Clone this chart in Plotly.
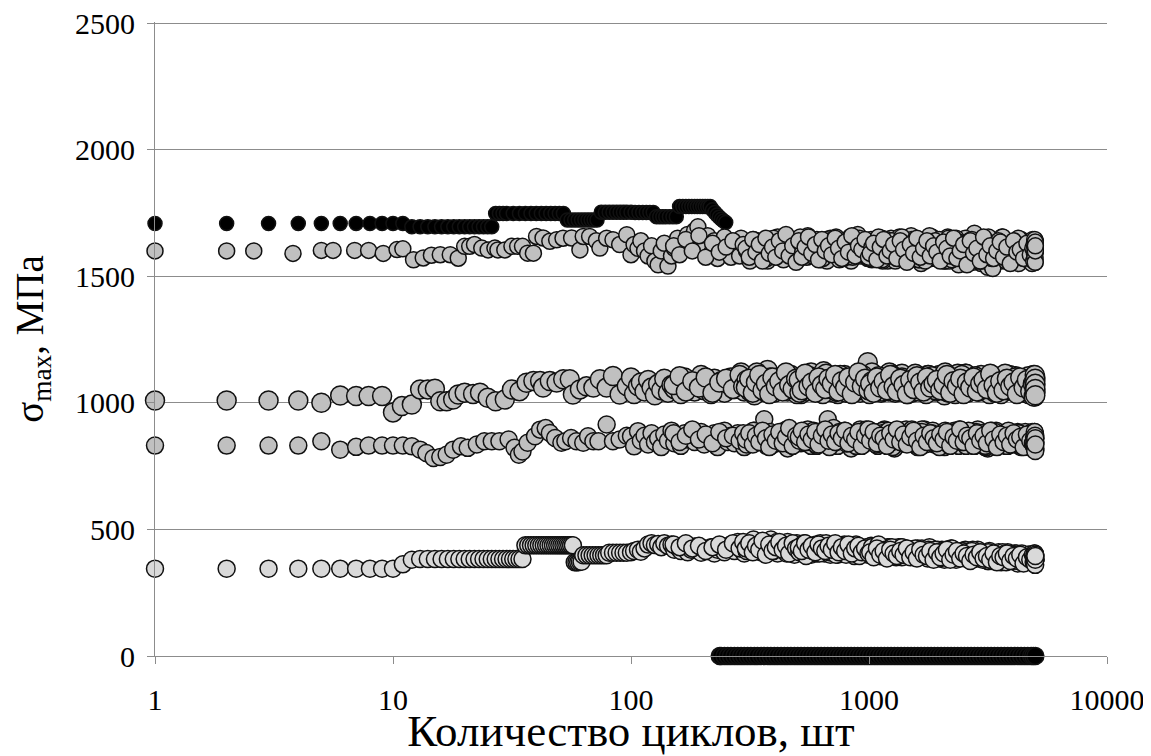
import plotly.graph_objects as go

# ---------------- data ----------------
# dense cycle grid A (100 .. 5000 cycles)
cyc_a = [100, 103, 107, 110, 114, 118, 122, 126, 130, 134,
         138, 143, 148, 152, 157, 162, 168, 173, 179, 185,
         191, 197, 203, 210, 217, 224, 231, 239, 247, 255,
         263, 272, 281, 290, 299, 309, 319, 330, 340, 352,
         363, 375, 387, 400, 413, 427, 441, 455, 470, 486,
         502, 518, 535, 553, 571, 590, 609, 629, 650, 671,
         693, 716, 739, 763, 788, 814, 841, 868, 897, 926,
         957, 988, 1020, 1054, 1088, 1124, 1161, 1199, 1238, 1279,
         1321, 1364, 1409, 1455, 1503, 1552, 1603, 1655, 1710, 1766,
         1824, 1883, 1945, 2009, 2075, 2143, 2213, 2285, 2360, 2438,
         2518, 2600, 2685, 2773, 2864, 2958, 3055, 3155, 3259, 3365,
         3476, 3590, 3707, 3829, 3954, 4084, 4218, 4356, 4499, 4646,
         4800, 4900, 5000]
# dense cycle grid B (300 .. 5000 cycles)
cyc_b = [304, 314, 325, 335, 346, 357, 369, 381, 393, 406,
         420, 434, 448, 462, 478, 494, 510, 526, 544, 562,
         580, 600, 619, 640, 660, 682, 704, 727, 751, 775,
         801, 827, 854, 882, 911, 941, 972, 1004, 1037, 1071,
         1106, 1142, 1180, 1218, 1258, 1300, 1342, 1386, 1432, 1479,
         1527, 1577, 1629, 1682, 1738, 1795, 1853, 1914, 1977, 2042,
         2109, 2178, 2249, 2322, 2399, 2478, 2559, 2642, 2729, 2818,
         2911, 3006, 3105, 3207, 3312, 3420, 3533, 3648, 3768, 3891,
         4019, 4151, 4287, 4427, 4572, 4723, 4850, 4950, 4975, 4990]
# dense cycle grid C (1000 .. 5000 cycles)
cyc_c = [1012, 1046, 1080, 1115, 1152, 1190, 1228, 1269, 1310, 1353,
         1397, 1443, 1491, 1540, 1590, 1642, 1696, 1752, 1809, 1868,
         1929, 1993, 2058, 2126, 2195, 2267, 2341, 2418, 2498, 2580,
         2664, 2751, 2841, 2934, 3030, 3129, 3232, 3338, 3447, 3561,
         3677, 3797, 3922, 4050, 4183, 4320, 4462, 4608, 4760, 4880,
         4920, 4940, 4960, 4970, 4980, 4985, 4992, 4995, 4998, 5000]
# dense cycle grid D (150 .. 5000 cycles)
cyc_d = [151, 160, 170, 181, 193, 206, 220, 235, 251, 268,
         286, 296, 306, 316, 327, 338, 349, 360, 372, 384,
         397, 410, 423, 437, 451, 466, 482, 498, 514, 531,
         548, 566, 585, 604, 624, 645, 666, 688, 710, 733,
         757, 782, 808, 834, 861, 889, 918, 948, 980, 1028,
         1063, 1097, 1133, 1171, 1209, 1248, 1289, 1331, 1375, 1420,
         1467, 1515, 1565, 1616, 1669, 1724, 1780, 1839, 1899, 1961,
         2025, 2092, 2160, 2231, 2304, 2380, 2458, 2539, 2622, 2708,
         2797, 2888, 2983, 3081, 3182, 3286, 3394, 3505, 3620, 3739,
         3862, 3988, 4119, 4254, 4393, 4537, 4686, 4760, 4830, 4870,
         4910, 4930, 4945, 4955, 4965, 4975, 4983, 4988, 4994, 4997]
# dense cycle grid E (500 .. 5000 cycles)
cyc_e = [507, 522, 539, 557, 575, 595, 614, 634, 655, 676,
         698, 721, 745, 769, 794, 820, 847, 875, 903, 933,
         963, 995, 1028, 1062, 1097, 1133, 1170, 1208, 1248, 1289,
         1331, 1375, 1420, 1466, 1514, 1564, 1615, 1668, 1722, 1779,
         1837, 1897, 1959, 2023, 2090, 2158, 2229, 2302, 2377, 2455,
         2535, 2618, 2704, 2792, 2884, 2978, 3076, 3176, 3280, 3388,
         3499, 3613, 3731, 3853, 3979, 4109, 4244, 4383, 4526, 4674,
         4720, 4780, 4815, 4845, 4875, 4905, 4925, 4950, 4970, 4990]

# black series, upper part (before failure)
bk_x = [1, 2, 3, 4, 5, 6, 7, 8, 9, 10, 11,
        12, 13, 14, 15, 16, 17, 18, 19, 20, 21, 22, 23, 24, 25, 26,
        27, 28, 29, 30, 32, 34, 36, 38, 40, 42, 44, 46, 48, 50, 52,
        54, 56, 58, 60, 62, 64, 66, 68, 70, 72,
        75, 78, 81, 84, 87, 90, 93, 96, 100,
        104, 108, 112, 116, 120, 124,
        128, 132, 136, 140, 145, 150, 155,
        160, 165, 170, 175, 180, 185, 190, 195, 200, 205, 210, 215,
        220, 225, 230, 235, 240, 245, 250]
bk_y = [1708, 1708, 1708, 1708, 1708, 1708, 1708, 1708, 1708, 1708, 1708,
        1695, 1695, 1695, 1695, 1695, 1695, 1695, 1695, 1695, 1695, 1695, 1695, 1695, 1695, 1695,
        1748, 1748, 1748, 1748, 1748, 1748, 1748, 1748, 1748, 1748, 1748, 1748, 1748, 1748, 1748,
        1722, 1722, 1722, 1722, 1722, 1722, 1722, 1722, 1722, 1722,
        1753, 1753, 1753, 1753, 1753, 1753, 1753, 1753, 1753,
        1752, 1752, 1752, 1752, 1752, 1752,
        1735, 1735, 1735, 1735, 1735, 1735, 1735,
        1775, 1775, 1775, 1775, 1775, 1775, 1775, 1775, 1775, 1775, 1775, 1775,
        1762, 1752, 1742, 1733, 1725, 1718, 1712]

# black series after failure (stress = 0)
bz_x = [236, 239, 247, 255, 263, 272, 281, 290, 299, 309, 319, 330, 340, 352,
        363, 375, 387, 400, 413, 427, 441, 455, 470, 486,
        502, 518, 535, 553, 571, 590, 609, 629, 650, 671,
        693, 716, 739, 763, 788, 814, 841, 868, 897, 926,
        957, 988, 1020, 1054, 1088, 1124, 1161, 1199, 1238, 1279,
        1321, 1364, 1409, 1455, 1503, 1552, 1603, 1655, 1710, 1766,
        1824, 1883, 1945, 2009, 2075, 2143, 2213, 2285, 2360, 2438,
        2518, 2600, 2685, 2773, 2864, 2958, 3055, 3155, 3259, 3365,
        3476, 3590, 3707, 3829, 3954, 4084, 4218, 4356, 4499, 4646,
        4800, 4900, 5000]
bz_y = [0] * len(bz_x)

# ~1600 MPa series
s1600_x_low = [1, 2, 2.6, 3.8, 5, 5.6, 6.9, 7.9, 9.1, 10.4, 11, 12.2, 13.4, 14.5, 15.8,
               17.4, 18.8, 20, 21, 22, 23.6, 25.1, 26.8, 27.6, 29.5, 31.6, 33.4, 35,
               36.8, 38.9, 40.1, 42.7, 45.6, 48.7, 51.8, 56.3, 61, 63, 67, 71.5, 74,
               79, 84, 89.6, 96]
s1600_y_low = [1600, 1600, 1600, 1590, 1602, 1602, 1602, 1602, 1590, 1605, 1608, 1565, 1572, 1583, 1585,
               1585, 1571, 1618, 1618, 1625, 1611, 1604, 1611, 1604, 1604, 1618, 1618, 1618,
               1591, 1591, 1657, 1651, 1638, 1644, 1650, 1651, 1604, 1657, 1657, 1640, 1611,
               1650, 1644, 1625, 1664]
s1600_y_a = [1585, 1625, 1610, 1640, 1600, 1580, 1620, 1560, 1545, 1600,
             1630, 1540, 1580, 1610, 1650, 1600, 1620, 1665, 1640, 1680,
             1695, 1650, 1610, 1660, 1590, 1640, 1570, 1620, 1655, 1600,
             1575, 1630, 1610, 1650, 1595, 1620, 1570, 1605, 1640, 1585,
             1615, 1560, 1630, 1600, 1655, 1575, 1620, 1590, 1645, 1610,
             1570, 1625, 1600, 1660, 1585, 1615, 1640, 1565, 1605, 1630,
             1595, 1650, 1575, 1620, 1600, 1640, 1560, 1615, 1665, 1590,
             1625, 1570, 1645, 1600, 1580, 1635, 1610, 1560, 1650, 1595,
             1620, 1575, 1640, 1600, 1660, 1585, 1615, 1550, 1630, 1605,
             1570, 1645, 1595, 1620, 1560, 1655, 1600, 1580, 1640, 1610,
             1565, 1625, 1595, 1670, 1580, 1550, 1615, 1535, 1645, 1590,
             1610, 1560, 1640, 1585, 1600, 1625, 1555, 1645, 1580, 1615,
             1595, 1560, 1640]
s1600_y_b = [1610, 1575, 1645, 1595, 1625, 1560, 1650, 1590, 1615, 1575,
             1640, 1600, 1665, 1580, 1620, 1555, 1635, 1595, 1610, 1650,
             1580, 1625, 1600, 1570, 1645, 1610, 1590, 1655, 1565, 1620,
             1600, 1640, 1575, 1620, 1650, 1585, 1610, 1570, 1635, 1595,
             1615, 1560, 1645, 1600, 1625, 1580, 1655, 1595, 1570, 1630,
             1605, 1640, 1565, 1620, 1590, 1660, 1575, 1610, 1645, 1585,
             1625, 1560, 1600, 1650, 1575, 1615, 1590, 1640, 1555, 1620,
             1595, 1645, 1570, 1610, 1530, 1625, 1585, 1655, 1560, 1600,
             1620, 1575, 1640, 1590, 1610, 1560, 1630, 1585, 1600, 1620]
s1600_y_c = [1590, 1630, 1565, 1615, 1645, 1580, 1600, 1625, 1570, 1640,
             1605, 1555, 1625, 1590, 1650, 1575, 1610, 1640, 1580, 1620,
             1595, 1560, 1635, 1610, 1580, 1650, 1570, 1600, 1625, 1545,
             1640, 1590, 1610, 1560, 1655, 1585, 1620, 1570, 1600, 1635,
             1575, 1615, 1550, 1640, 1595, 1605, 1570, 1630, 1585, 1610,
             1560, 1625, 1590, 1645, 1575, 1610, 1555, 1635, 1600, 1620]
s1600_y_d = [1620, 1585, 1645, 1600, 1660, 1575, 1630, 1595, 1615, 1640,
             1580, 1625, 1600, 1560, 1645, 1610, 1585, 1635, 1570, 1620,
             1650, 1595, 1615, 1565, 1640, 1600, 1625, 1580, 1655, 1605,
             1575, 1630, 1610, 1645, 1590, 1620, 1560, 1650, 1600, 1585,
             1635, 1570, 1615, 1655, 1595, 1625, 1580, 1645, 1605, 1565,
             1620, 1590, 1650, 1575, 1610, 1640, 1560, 1625, 1595, 1615,
             1580, 1645, 1600, 1565, 1635, 1610, 1590, 1655, 1570, 1620,
             1600, 1560, 1640, 1585, 1625, 1545, 1615, 1650, 1575, 1605,
             1630, 1590, 1560, 1645, 1610, 1540, 1620, 1580, 1655, 1595,
             1570, 1625, 1600, 1550, 1640, 1585, 1615, 1575, 1630, 1595,
             1560, 1610, 1585, 1640, 1570, 1620, 1595, 1555, 1635, 1600]
s1600_y_e = [1640, 1575, 1615, 1655, 1590, 1625, 1565, 1645, 1600, 1620,
             1585, 1650, 1610, 1570, 1635, 1595, 1660, 1580, 1620, 1605,
             1645, 1575, 1615, 1590, 1655, 1565, 1630, 1600, 1640, 1585,
             1610, 1655, 1570, 1625, 1595, 1645, 1580, 1615, 1560, 1635,
             1600, 1640, 1575, 1620, 1590, 1650, 1565, 1610, 1635, 1585,
             1620, 1575, 1645, 1600, 1560, 1630, 1590, 1655, 1570, 1615,
             1640, 1585, 1605, 1565, 1625, 1595, 1650, 1575, 1610, 1590,
             1630, 1570, 1615, 1550, 1645, 1600, 1580, 1625, 1565, 1610]

# ~1000 MPa series
s1000_x_low = [1, 2, 3, 4, 5, 6, 7, 7.9, 9, 10, 10.9, 12, 13, 14, 15, 15.8, 16.8, 17.9, 18.8, 20,
               21.7, 23.2, 25, 27, 29.5, 31.6, 34, 36.4, 38.9, 41.5, 42.7, 45.6, 48.7, 51.9,
               55.3, 57, 61, 65, 69.5, 74, 79, 84, 89.6, 96]
s1000_y_low = [1009, 1009, 1009, 1009, 1000, 1029, 1027, 1027, 1027, 962, 987, 993, 1053, 1053, 1056,
               1006, 1006, 1013, 1033, 1040, 1035, 1040, 1020, 1006, 1013, 1053, 1046, 1079, 1086,
               1086, 1060, 1086, 1080, 1093, 1093, 1033, 1053, 1065, 1060, 1093, 1060, 1106, 1033, 1066]
s1000_y_a = [1100, 1035, 1066, 1080, 1045, 1090, 1060, 1030, 1075, 1050,
             1095, 1040, 1070, 1055, 1085, 1035, 1100, 1060, 1075, 1045,
             1080, 1110, 1050, 1070, 1035, 1095, 1060, 1085, 1040, 1075,
             1100, 1055, 1070, 1120, 1045, 1085, 1060, 1030, 1095, 1070,
             1050, 1130, 1075, 1040, 1100, 1065, 1085, 1045, 1110, 1060,
             1080, 1035, 1095, 1070, 1120, 1050, 1085, 1040, 1075, 1100,
             1060, 1090, 1035, 1080, 1110, 1055, 1070, 1045, 1095, 1065,
             1085, 1160, 1050, 1100, 1070, 1040, 1090, 1060, 1115, 1045,
             1080, 1055, 1100, 1035, 1075, 1095, 1050, 1085, 1065, 1110,
             1045, 1080, 1060, 1100, 1030, 1090, 1070, 1050, 1115, 1065,
             1085, 1040, 1095, 1060, 1075, 1110, 1045, 1080, 1055, 1100,
             1070, 1035, 1090, 1060, 1105, 1050, 1080, 1065, 1040, 1095,
             1060, 1085, 1045]
s1000_y_b = [1060, 1095, 1040, 1080, 1110, 1050, 1075, 1035, 1100, 1065,
             1085, 1045, 1120, 1070, 1055, 1095, 1040, 1080, 1065, 1105,
             1050, 1090, 1070, 1035, 1115, 1060, 1085, 1045, 1100, 1075,
             1040, 1095, 1065, 1080, 1050, 1110, 1070, 1035, 1090, 1060,
             1100, 1050, 1075, 1120, 1045, 1085, 1060, 1095, 1040, 1080,
             1065, 1105, 1050, 1085, 1035, 1095, 1070, 1055, 1110, 1075,
             1045, 1090, 1060, 1100, 1070, 1040, 1115, 1065, 1085, 1050,
             1095, 1060, 1080, 1035, 1105, 1070, 1050, 1090, 1065, 1110,
             1055, 1085, 1040, 1095, 1070, 1100, 1050, 1080, 1030, 1090]
s1000_y_c = [1075, 1040, 1100, 1060, 1085, 1050, 1110, 1065, 1045, 1095,
             1070, 1035, 1090, 1055, 1105, 1080, 1045, 1100, 1060, 1075,
             1090, 1050, 1070, 1110, 1040, 1085, 1065, 1095, 1035, 1080,
             1060, 1100, 1045, 1075, 1090, 1055, 1115, 1070, 1040, 1085,
             1050, 1095, 1065, 1080, 1035, 1100, 1060, 1090, 1045, 1075,
             1025, 1085, 1050, 1110, 1065, 1040, 1095, 1075, 1055, 1030]
s1000_y_d = [1070, 1105, 1045, 1085, 1060, 1100, 1040, 1080, 1095, 1055,
             1110, 1065, 1090, 1045, 1075, 1120, 1055, 1085, 1040, 1100,
             1065, 1095, 1050, 1080, 1115, 1060, 1090, 1035, 1075, 1105,
             1045, 1085, 1070, 1100, 1055, 1125, 1065, 1090, 1040, 1080,
             1110, 1050, 1075, 1095, 1060, 1085, 1040, 1100, 1070, 1120,
             1055, 1090, 1065, 1105, 1045, 1080, 1095, 1050, 1115, 1070,
             1085, 1040, 1100, 1065, 1090, 1055, 1110, 1075, 1045, 1095,
             1060, 1105, 1050, 1080, 1035, 1095, 1070, 1115, 1055, 1085,
             1100, 1045, 1075, 1090, 1060, 1110, 1040, 1085, 1065, 1095,
             1050, 1080, 1105, 1040, 1090, 1070, 1035, 1100, 1060, 1085,
             1110, 1045, 1075, 1095, 1030, 1085, 1060, 1040, 1100, 1070]
s1000_y_e = [1090, 1050, 1115, 1065, 1080, 1040, 1100, 1070, 1055, 1095,
             1075, 1110, 1045, 1085, 1060, 1100, 1035, 1080, 1120, 1065,
             1095, 1050, 1085, 1070, 1105, 1045, 1090, 1060, 1110, 1040,
             1080, 1100, 1055, 1090, 1065, 1115, 1045, 1075, 1095, 1060,
             1105, 1050, 1085, 1070, 1120, 1040, 1095, 1065, 1080, 1110,
             1055, 1090, 1075, 1105, 1045, 1085, 1060, 1100, 1070, 1040,
             1095, 1065, 1115, 1050, 1080, 1100, 1045, 1090, 1070, 1105,
             1060, 1085, 1035, 1100, 1075, 1050, 1095, 1065, 1025, 1085]

# ~830 MPa series
s830_x_low = [1, 2, 3, 4, 5, 6, 7, 7.9, 9, 10, 11, 12, 13, 13.8, 14.8, 15.8, 16.8, 17.9, 19.3, 20.6,
              22.5, 24.2, 26, 28, 30.6, 32.4, 33.8, 35, 36.8, 39.5, 41.5, 43.8, 45.6, 48, 51, 53,
              56, 59, 63, 66, 69.5, 73, 79, 84, 89.6, 96]
s830_y_low = [831, 831, 831, 831, 848, 815, 826, 831, 831, 831, 831, 828, 815, 802, 782, 786, 795, 815, 828, 822,
              835, 848, 848, 848, 855, 822, 795, 808, 842, 868, 894, 900, 881, 861, 842, 848,
              861, 848, 842, 868, 848, 848, 914, 848, 855, 870]
s830_y_a = [868, 828, 888, 850, 870, 835, 880, 845, 860, 825,
            875, 850, 890, 840, 865, 830, 880, 855, 870, 845,
            860, 885, 835, 870, 850, 880, 825, 865, 890, 845,
            870, 840, 880, 855, 825, 870, 860, 890, 845, 850,
            935, 860, 830, 875, 845, 885, 855, 820, 870, 850,
            880, 840, 865, 895, 830, 870, 850, 885, 860, 935,
            845, 875, 830, 865, 890, 850, 820, 870, 855, 880,
            840, 870, 855, 885, 830, 865, 895, 845, 875, 820,
            860, 890, 840, 870, 850, 880, 825, 865, 895, 845,
            870, 835, 880, 855, 825, 870, 860, 890, 840, 865,
            880, 845, 870, 830, 895, 850, 865, 820, 875, 855,
            840, 880, 860, 830, 870, 850, 885, 825, 865, 845,
            870, 835, 860]
s830_y_b = [855, 880, 835, 870, 845, 890, 860, 825, 875, 850,
            885, 840, 865, 900, 830, 870, 850, 880, 845, 865,
            875, 835, 860, 890, 850, 825, 870, 845, 885, 860,
            840, 875, 855, 830, 880, 860, 895, 845, 870, 835,
            865, 890, 845, 875, 825, 860, 880, 850, 895, 840,
            870, 835, 885, 855, 870, 840, 890, 860, 825, 875,
            850, 880, 840, 870, 895, 855, 830, 875, 860, 885,
            845, 870, 825, 880, 855, 890, 840, 865, 830, 875,
            860, 835, 880, 850, 870, 825, 885, 845, 860, 815]
s830_y_c = [850, 885, 840, 870, 860, 830, 880, 855, 895, 845,
            875, 835, 865, 890, 850, 825, 870, 845, 880, 860,
            840, 875, 855, 885, 830, 865, 850, 895, 845, 870,
            860, 830, 880, 850, 870, 840, 890, 855, 825, 875,
            845, 870, 835, 880, 855, 865, 825, 875, 850, 840,
            830, 865, 850, 885, 820, 870, 845, 810, 860, 835]
s830_y_d = [880, 845, 870, 895, 855, 875, 840, 885, 860, 870,
            850, 880, 835, 865, 890, 845, 875, 860, 830, 885,
            865, 840, 880, 855, 895, 835, 870, 850, 885, 845,
            875, 855, 890, 830, 865, 880, 845, 870, 900, 850,
            860, 885, 840, 875, 850, 870, 895, 835, 865, 880,
            845, 870, 855, 890, 830, 875, 860, 885, 840, 865,
            880, 850, 870, 835, 895, 855, 875, 845, 880, 860,
            835, 870, 885, 850, 865, 830, 890, 855, 875, 840,
            870, 845, 880, 825, 860, 890, 850, 875, 835, 865,
            855, 880, 840, 870, 830, 885, 850, 865, 825, 875,
            840, 870, 850, 885, 825, 860, 835, 875, 845, 820]
s830_y_e = [865, 890, 845, 875, 855, 885, 835, 870, 895, 850,
            875, 845, 880, 860, 890, 840, 870, 855, 885, 830,
            870, 895, 850, 875, 840, 880, 860, 890, 845, 875,
            855, 880, 840, 870, 895, 850, 865, 885, 835, 870,
            880, 845, 875, 860, 890, 835, 870, 855, 885, 845,
            865, 890, 840, 875, 855, 880, 830, 870, 860, 885,
            845, 875, 860, 890, 835, 865, 880, 850, 870, 840,
            875, 850, 865, 830, 880, 845, 860, 820, 870, 840]

# ~350 MPa series
s350_x_low = [1, 2, 3, 4, 5, 6, 7, 8, 9, 10, 11,
              12, 13, 14, 15, 16, 17, 18, 19, 20, 21, 22, 23, 24, 25, 26, 27, 28, 29, 30,
              31, 32, 33, 34, 35,
              36, 37, 38, 39, 40, 41, 42, 43, 44, 45, 46, 47, 48, 49, 50, 51, 52, 53, 54, 55, 56, 57,
              58, 59, 60, 61, 62,
              63, 65, 67, 69, 71, 73, 75, 77, 79,
              81, 84, 87, 90, 93, 96]
s350_y_low = [345, 345, 345, 345, 345, 345, 345, 345, 345, 345, 362,
              380, 383, 383, 383, 383, 383, 383, 383, 383, 383, 383, 383, 383, 383, 383, 383, 383, 383, 383,
              383, 383, 383, 383, 383,
              437, 437, 437, 437, 437, 437, 437, 437, 437, 437, 437, 437, 437, 437, 437, 437, 437, 437, 437, 437, 437, 437,
              370, 370, 370, 372, 372,
              398, 398, 398, 398, 398, 398, 398, 398, 398,
              408, 408, 408, 408, 408, 408]
s350_y_a = [410, 415, 420, 412, 425, 440, 445, 438, 442, 430,
            445, 435, 440, 420, 430, 415, 425, 410, 420, 432,
            418, 408, 425, 415, 430, 405, 420, 435, 410, 425,
            440, 415, 450, 425, 405, 440, 420, 455, 430, 410,
            445, 420, 460, 430, 405, 440, 415, 450, 425, 400,
            435, 410, 445, 420, 400, 430, 415, 440, 405, 425,
            410, 435, 400, 420, 440, 405, 425, 395, 430, 410,
            420, 400, 435, 410, 425, 395, 415, 430, 400, 420,
            405, 430, 395, 415, 420, 390, 425, 400, 410, 385,
            415, 395, 420, 400, 380, 410, 425, 390, 405, 415,
            395, 410, 380, 405, 420, 385, 400, 375, 410, 390,
            400, 370, 395, 410, 380, 405, 365, 395, 385, 400,
            375, 395, 380]
s350_y_b = [425, 445, 410, 435, 420, 455, 400, 440, 415, 430,
            450, 420, 435, 405, 445, 425, 410, 440, 395, 430,
            415, 440, 405, 425, 445, 410, 430, 400, 420, 435,
            400, 425, 410, 440, 395, 420, 430, 405, 415, 425,
            395, 420, 405, 430, 410, 390, 420, 400, 425, 405,
            415, 390, 420, 400, 410, 430, 395, 415, 385, 405,
            420, 395, 410, 380, 405, 415, 390, 400, 420, 385,
            405, 380, 395, 415, 375, 400, 390, 410, 370, 395,
            385, 405, 375, 395, 380, 400, 370, 390, 395, 380]
s350_y_c = [410, 390, 425, 400, 415, 385, 420, 405, 395, 415,
            400, 425, 390, 410, 385, 420, 400, 395, 415, 380,
            410, 390, 405, 420, 380, 400, 415, 385, 405, 395,
            375, 400, 390, 410, 385, 395, 380, 405, 370, 395,
            390, 405, 375, 395, 385, 400, 365, 390, 380, 400,
            370, 395, 385, 405, 375, 390, 360, 400, 380, 395]
s350_y_d = [440, 430, 445, 425, 435, 415, 430, 440, 420, 445,
            425, 450, 415, 435, 460, 420, 440, 410, 445, 430,
            415, 450, 425, 440, 405, 435, 420, 445, 410, 430,
            440, 415, 430, 405, 445, 420, 435, 400, 425, 440,
            410, 430, 405, 425, 415, 435, 400, 420, 410, 430,
            405, 420, 395, 425, 410, 415, 400, 430, 390, 415,
            405, 420, 395, 410, 425, 400, 415, 390, 410, 400,
            420, 390, 405, 415, 385, 410, 400, 420, 380, 405,
            395, 410, 385, 400, 375, 405, 390, 410, 385, 395,
            400, 375, 395, 385, 405, 370, 395, 380, 400, 385,
            370, 395, 380, 405, 365, 390, 385, 375, 400, 380]
s350_y_e = [430, 415, 445, 420, 435, 410, 440, 425, 415, 435,
            420, 445, 410, 430, 415, 440, 405, 425, 435, 410,
            425, 405, 430, 415, 440, 400, 420, 410, 430, 405,
            415, 430, 400, 420, 410, 425, 395, 415, 405, 420,
            400, 420, 410, 395, 415, 405, 425, 390, 410, 400,
            410, 395, 415, 385, 405, 400, 390, 410, 380, 400,
            395, 385, 405, 390, 380, 400, 375, 395, 385, 390,
            400, 380, 395, 370, 390, 385, 375, 400, 365, 390]

x_tick_vals = [1, 10, 100, 1000, 10000]
x_tick_text = ["1", "10", "100", "1000", "10000"]
y_tick_vals = [0, 500, 1000, 1500, 2000, 2500]

# ---------------- figure ----------------
FONT = "Liberation Serif, Times New Roman, serif"
OUTLINE = dict(color="#111111", width=1.5)
GRID = "#8c8c8c"

fig = go.Figure()


def add(xs, ys, fill, size):
    fig.add_trace(go.Scatter(
        x=xs, y=ys, mode="markers", cliponaxis=False, hoverinfo="x+y",
        marker=dict(size=size, color=fill, line=OUTLINE), showlegend=False))


add(bk_x, bk_y, "#000000", 14)
add(bz_x, bz_y, "#000000", 17)
add(s1600_x_low + cyc_a + cyc_d + cyc_b + cyc_e + cyc_c,
    s1600_y_low + s1600_y_a + s1600_y_d + s1600_y_b + s1600_y_e + s1600_y_c, "#c0c0c0", 16)
add(s1000_x_low + cyc_a + cyc_d + cyc_b + cyc_e + cyc_c,
    s1000_y_low + s1000_y_a + s1000_y_d + s1000_y_b + s1000_y_e + s1000_y_c, "#c0c0c0", 19)
add(s830_x_low + cyc_a + cyc_d + cyc_b + cyc_e + cyc_c,
    s830_y_low + s830_y_a + s830_y_d + s830_y_b + s830_y_e + s830_y_c, "#c0c0c0", 17)
add(s350_x_low + cyc_a + cyc_d + cyc_b + cyc_e + cyc_c,
    s350_y_low + s350_y_a + s350_y_d + s350_y_b + s350_y_e + s350_y_c, "#d9d9d9", 17)

# page body has an 8px margin, so the figure is 1143x748 and sits at (8, 8)
fig.update_layout(
    width=1143, height=748,
    margin=dict(l=147, r=44, t=14, b=100),
    paper_bgcolor="white", plot_bgcolor="white",
    font=dict(family=FONT, color="black"),
    showlegend=False,
)
fig.update_xaxes(
    type="log", range=[0, 4], tickvals=x_tick_vals, ticktext=x_tick_text,
    showgrid=False, zeroline=False, showline=True, linecolor=GRID, linewidth=1,
    ticks="outside", ticklen=7, tickcolor=GRID, tickwidth=1,
    tickfont=dict(family=FONT, size=30, color="black"), ticklabelstandoff=10,
    ticklabeloverflow="allow",
    title=dict(text="Количество циклов, шт", font=dict(family=FONT, size=45, color="black"), standoff=12),
    automargin=False,
)
fig.update_yaxes(
    range=[0, 2504], tickvals=y_tick_vals,
    showgrid=True, gridcolor=GRID, gridwidth=1, zeroline=False,
    showline=True, linecolor=GRID, linewidth=1,
    ticks="outside", ticklen=7, tickcolor=GRID, tickwidth=1,
    tickfont=dict(family=FONT, size=30, color="black"), ticklabelstandoff=6,
    ticklabeloverflow="allow",
    title=dict(text="σ<sub>max</sub>, МПа", font=dict(family=FONT, size=39, color="black"), standoff=26),
    automargin=False,
)

fig.write_html("out.html")
